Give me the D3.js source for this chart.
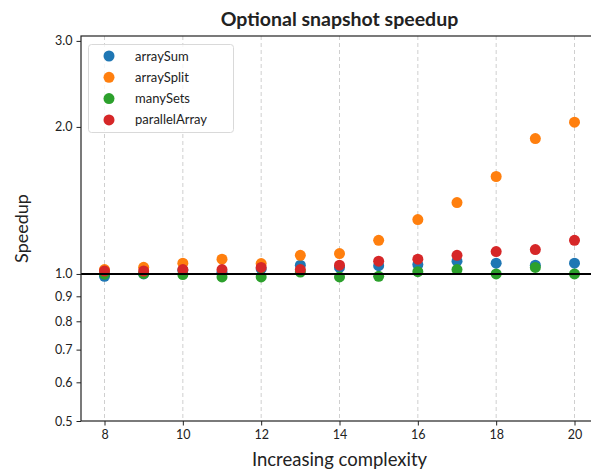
<!DOCTYPE html>
<html>
<head>
<meta charset="utf-8">
<script src="https://cdn.jsdelivr.net/npm/d3@7"></script>
<style>
  body { margin: 0; background: #fff; }
  svg text { font-family: Lato, "DejaVu Sans", sans-serif; fill: #222; }
</style>
</head>
<body>
<svg id="chart" width="591" height="471"></svg>
<script>
// Complexity levels on the x axis
const complexity = [8, 9, 10, 11, 12, 13, 14, 15, 16, 17, 18, 19, 20];

// Speedup per benchmark at each complexity level
const arraySum      = [0.989, 1.000, 1.018, 1.008, 1.024, 1.042, 1.031, 1.040, 1.045, 1.062, 1.052, 1.042, 1.052];
const arraySplit    = [1.021, 1.032, 1.052, 1.072, 1.050, 1.092, 1.101, 1.172, 1.292, 1.400, 1.583, 1.893, 2.045];
const manySets      = [0.999, 1.002, 0.997, 0.986, 0.986, 1.009, 0.986, 0.989, 1.011, 1.021, 1.000, 1.031, 1.000];
const parallelArray = [1.014, 1.014, 1.021, 1.021, 1.031, 1.021, 1.042, 1.062, 1.072, 1.092, 1.111, 1.122, 1.172];

const seriesNames  = ["arraySum", "arraySplit", "manySets", "parallelArray"];
const seriesValues = [arraySum, arraySplit, manySets, parallelArray];
const seriesColors = ["#1f77b4", "#ff7f0e", "#2ca02c", "#d62728"];

const xTicks = [8, 10, 12, 14, 16, 18, 20];
const yTicks = [0.5, 0.6, 0.7, 0.8, 0.9, 1.0, 2.0, 3.0];

const margin = { left: 81, top: 36, right: 598, bottom: 421 };

const svg = d3.select("#chart");

const x = d3.scaleLinear().domain([7.4, 20.6]).range([margin.left, margin.right]);
const y = d3.scaleLog().domain([0.5, 3.07]).range([margin.bottom, margin.top]);

// Vertical dashed grid at the x ticks
svg.append("g")
  .selectAll("line")
  .data(xTicks)
  .join("line")
  .attr("x1", d => x(d)).attr("x2", d => x(d))
  .attr("y1", margin.top).attr("y2", margin.bottom)
  .attr("stroke", "#cfcfcf")
  .attr("stroke-width", 1)
  .attr("stroke-dasharray", "4,3");

// Scatter points, one group per benchmark
seriesValues.forEach((vals, i) => {
  svg.append("g")
    .selectAll("circle")
    .data(vals.map((v, j) => ({ c: complexity[j], v })))
    .join("circle")
    .attr("cx", d => x(d.c))
    .attr("cy", d => y(d.v))
    .attr("r", 5.5)
    .attr("fill", seriesColors[i]);
});

// Reference line at speedup 1.0
svg.append("line")
  .attr("x1", margin.left).attr("x2", margin.right)
  .attr("y1", y(1.0)).attr("y2", y(1.0))
  .attr("stroke", "#000")
  .attr("stroke-width", 2);

// Frame
svg.append("rect")
  .attr("x", margin.left).attr("y", margin.top)
  .attr("width", margin.right - margin.left)
  .attr("height", margin.bottom - margin.top)
  .attr("fill", "none")
  .attr("stroke", "#222")
  .attr("stroke-width", 1.2);

// Axes
const xAxis = svg.append("g")
  .attr("transform", `translate(0,${margin.bottom})`)
  .call(d3.axisBottom(x).tickValues(xTicks).tickFormat(d3.format("d")).tickSize(4.5).tickPadding(5));
const yAxis = svg.append("g")
  .attr("transform", `translate(${margin.left},0)`)
  .call(d3.axisLeft(y).tickValues(yTicks).tickFormat(d3.format(".1f")).tickSize(4.5).tickPadding(4));

[xAxis, yAxis].forEach(g => {
  g.select(".domain").remove();
  g.selectAll(".tick line").attr("stroke", "#222");
  g.selectAll(".tick text").attr("font-size", 12.5).attr("fill", "#222")
    .style("font-family", "Lato, 'DejaVu Sans', sans-serif");
});

// Titles
svg.append("text")
  .attr("x", (margin.left + margin.right) / 2).attr("y", 26)
  .attr("text-anchor", "middle")
  .attr("font-size", 19.5).attr("font-weight", "bold")
  .text("Optional snapshot speedup");

svg.append("text")
  .attr("x", (margin.left + margin.right) / 2).attr("y", 466)
  .attr("text-anchor", "middle")
  .attr("font-size", 18.5)
  .text("Increasing complexity");

svg.append("text")
  .attr("transform", `translate(28,${(margin.top + margin.bottom) / 2}) rotate(-90)`)
  .attr("text-anchor", "middle")
  .attr("font-size", 18)
  .text("Speedup");

// Legend
const legend = svg.append("g");
legend.append("rect")
  .attr("x", 88.5).attr("y", 44.5)
  .attr("width", 145).attr("height", 88)
  .attr("rx", 3)
  .attr("fill", "rgba(255,255,255,0.8)")
  .attr("stroke", "#d9d9d9");
seriesNames.forEach((name, i) => {
  const cy = 56 + i * 21.3;
  legend.append("circle").attr("cx", 109).attr("cy", cy).attr("r", 5.5).attr("fill", seriesColors[i]);
  legend.append("text").attr("x", 135).attr("y", cy + 4.5).attr("font-size", 13).text(name);
});
</script>
</body>
</html>
